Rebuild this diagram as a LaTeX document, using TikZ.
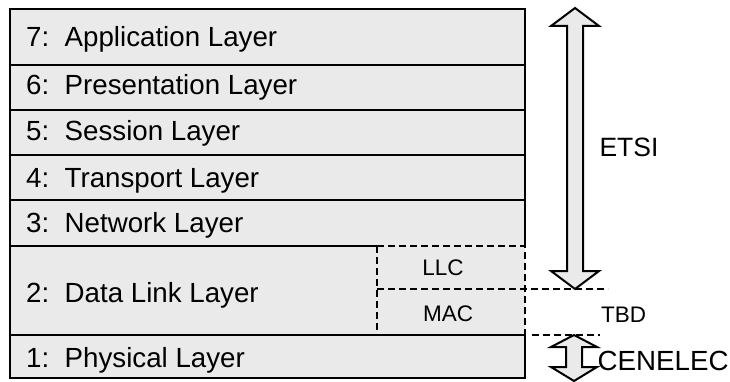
\documentclass[tikz,border=0pt]{standalone}
\usepackage{fontspec}
\setmainfont{Liberation Sans}
\definecolor{layergray}{RGB}{234,234,234}
\begin{document}
\begin{tikzpicture}[x=1pt,y=-1pt,
  frame/.style={line width=2pt,black},
  dashline/.style={line width=2pt,black,dash pattern=on 7pt off 4pt},
  bigtxt/.style={inner sep=0pt,anchor=base west,font=\fontsize{27.7}{32}\selectfont},
  midtxt/.style={inner sep=0pt,anchor=base,font=\fontsize{22.5}{26}\selectfont},
  arrowshape/.style={line width=2pt,fill=layergray,line join=miter,draw=black}]
\useasboundingbox (0,0) rectangle (730,382);
% coordinates
\coordinate (tl) at (10,9);
\coordinate (tr) at (525,9);
\coordinate (bl) at (10,378);
\coordinate (br) at (525,378);
\coordinate (s2l) at (10,246);
\coordinate (s2m) at (377,246);
\coordinate (s2r) at (525,246);
\coordinate (s1l) at (10,335);
\coordinate (s1r) at (525,335);
\coordinate (mm) at (377,289);
\coordinate (mr) at (608,289);
\coordinate (mb) at (377,335);
\coordinate (ta) at (532,335);
\coordinate (tb) at (600,335);
% fill
\fill[layergray] (tl) rectangle (br);
% solid lines
\draw[frame] (s2l) -- (tl) -- (tr) -- (s2r);
\foreach \yy in {65,110,155,200} \draw[frame] (10,\yy) -- (525,\yy);
\draw[frame] (s2l) -- (s2m);
\draw[frame] (s2l) -- (bl) -- (br) -- (s1r);
\draw[frame] (s1l) -- (s1r);
% dashed lines
\draw[dashline] (s2m) -- (s2r) -- (s1r);
\draw[dashline] (s2m) -- (mb);
\draw[dashline] (mm) -- (mr);
\draw[dashline] (ta) -- (tb);
% layer texts
\node[bigtxt] (l7) at (26,47) {7:\ \ Application Layer};
\node[bigtxt] (l6) at (26,95) {6:\ \ Presentation Layer};
\node[bigtxt] (l5) at (26,141) {5:\ \ Session Layer};
\node[bigtxt] (l4) at (26,187) {4:\ \ Transport Layer};
\node[bigtxt] (l3) at (26,232) {3:\ \ Network Layer};
\node[bigtxt] (l2) at (26,302) {2:\ \ Data Link Layer};
\node[bigtxt] (l1) at (26,367) {1:\ \ Physical Layer};
\node[midtxt] (llc) at (443,275) {LLC};
\node[midtxt] (mac) at (448,321) {MAC};
\node[midtxt] (tbd) at (623.5,322) {TBD};
\node[inner sep=0pt,anchor=base,font=\fontsize{26.5}{30}\selectfont] (etsi) at (629,157) {ETSI};
\node[bigtxt] (cen) at (597.5,370) {CENELEC};
% arrows
\draw[arrowshape] (575,8) -- (599,26) -- (583,26) -- (583,271) -- (599,271) -- (575,289)
  -- (551,271) -- (567,271) -- (567,26) -- (551,26) -- cycle;
\draw[arrowshape] (574,335) -- (597,347) -- (582,347) -- (582,367) -- (597,367) -- (574,381)
  -- (551,367) -- (566,367) -- (566,347) -- (551,347) -- cycle;
\end{tikzpicture}
\end{document}
